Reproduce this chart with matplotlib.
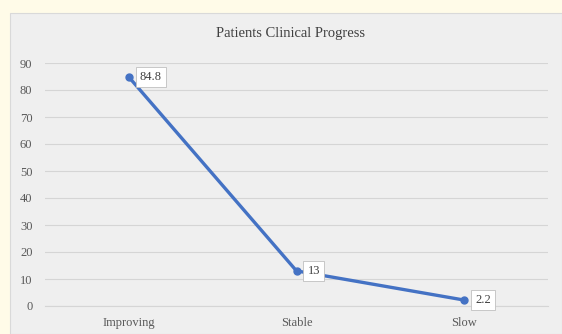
import matplotlib
matplotlib.use("Agg")
import matplotlib.pyplot as plt
from matplotlib.patches import Rectangle

categories = ["Improving", "Stable", "Slow"]
values = [84.8, 13, 2.2]
label_texts = ["84.8", "13", "2.2"]
yticks = [0, 10, 20, 30, 40, 50, 60, 70, 80, 90]

W, H = 562, 334
fig = plt.figure(figsize=(W / 100, H / 100), dpi=100)
fig.patch.set_facecolor("#fffbe8")
bg = Rectangle((10 / W, 0), 1 - 10 / W, 1 - 13 / H, transform=fig.transFigure,
               facecolor="#efefef", edgecolor="#d9d9d9", linewidth=0.8, zorder=-10)
fig.patches.append(bg)

ax = fig.add_axes([45 / W, (H - 306) / H, (548 - 45) / W, (306 - 63) / H])
ax.set_zorder(5)
ax.set_facecolor("none")
ax.set_xlim(-0.5, 2.5)
ax.set_ylim(0, 90)
ax.set_yticks(yticks)
ax.yaxis.grid(True, color="#d5d5d5", linewidth=0.8)
ax.set_axisbelow(True)
for s in ["top", "right", "left"]:
    ax.spines[s].set_visible(False)
ax.spines["bottom"].set_color("#d5d5d5")
ax.spines["bottom"].set_linewidth(0.8)
ax.tick_params(length=0, labelsize=9, colors="#595959", pad=9)
ax.set_xticks(range(len(categories)))
ax.set_xticklabels(categories)
ax.tick_params(axis="x", pad=8)
for lbl in ax.get_xticklabels() + ax.get_yticklabels():
    lbl.set_family("Liberation Serif")

ax.plot(range(len(values)), values, color="#4472c4", linewidth=2.4, marker="o",
        markersize=5, zorder=3, clip_on=False)
for i, (v, t) in enumerate(zip(values, label_texts)):
    ax.annotate(t, (i, v), xytext=(8, 0), textcoords="offset points", va="center", ha="left",
                fontsize=9, family="Liberation Serif", color="#404040",
                bbox=dict(boxstyle="square,pad=0.35", facecolor="white", edgecolor="#bfbfbf",
                          linewidth=0.6), zorder=4)

fig.text(290 / W, 1 - 34 / H, "Patients Clinical Progress", ha="center", va="center",
         fontsize=10.5, family="Liberation Serif", color="#404040", zorder=6)

fig.savefig("out.png", dpi=100)
